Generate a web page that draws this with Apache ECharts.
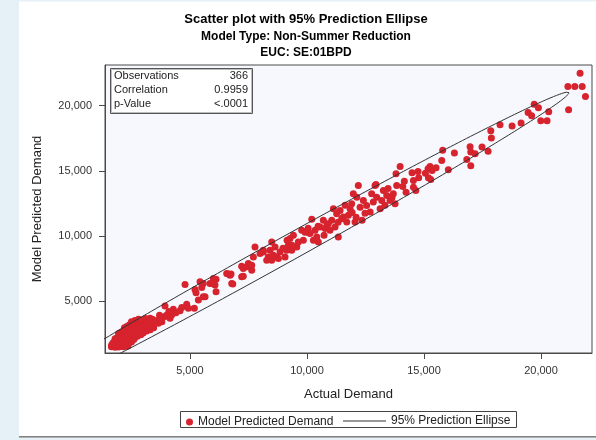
<!DOCTYPE html>
<html><head><meta charset="utf-8">
<script src="https://cdn.jsdelivr.net/npm/echarts@6/dist/echarts.min.js"></script>
<style>html,body{margin:0;padding:0;background:#fff}#c{width:596px;height:440px}</style>
</head><body><div id="c"></div>
<script>
const titleLines = ['Scatter plot with 95% Prediction Ellipse', 'Model Type: Non-Summer Reduction', 'EUC: SE:01BPD'];
const xAxisName = 'Actual Demand';
const yAxisName = 'Model Predicted Demand';
const tickValues = [5000, 10000, 15000, 20000];
const statLabels = ['Observations', 'Correlation', 'p-Value'];
const statValues = ['366', '0.9959', '<.0001'];
const seriesNames = ['Model Predicted Demand', '95% Prediction Ellipse'];
// [actual demand, model predicted demand]
const observations = [
[21670,22490],[21150,21470],[21445,21470],[21760,21470],[21900,20700],[21180,19690],[19710,20120],[19890,19840],[19450,19480],[19600,19230],[20330,19530],[19990,18845],[20260,18845],[19150,18670],[18765,18440],[18250,18540],[17855,18080],[17880,17520],[17480,16830],[17740,16500],[16970,16855],[17000,16450],[17185,16300],[16830,15860],[17000,15380],[16300,16375],[15800,16575],[15760,15785],[16040,15075],[15260,15325],[15175,15150],[15517,15225],[15346,15020],[15060,14815],[14745,14945],[14490,14845],[14775,14460],[14160,14200],[15190,14460],[15290,14330],[14095,13795],[14235,13360],[14650,13490],[13980,15325],
[13805,14770],[14550,14255],[14550,13745],[13835,13870],[13690,13240],[13765,12470],[13265,13490],[13410,13107],[13195,12725],[13550,12725],[12980,12977],[12910,13872],[12765,13240],[12835,12596],[12550,12343],[12700,11830],[12410,12725],[12270,12210],[12195,13872],[12130,12977],[11980,13240],[11910,12470],[11840,12090],[11770,11577],[12055,11065],[11415,11960],[11485,11325],[11270,11706],[11130,12090],[11060,11195],[11200,10682],[11340,9917],[11555,11450],[11700,11065],[10915,10940],[10775,10560],[10985,10430],[10560,10682],[10700,11195],[10205,11270],[10345,10430],[10130,10177],[10420,9917],[9990,10300],[10275,9665],[10485,9535],[9775,10430],[9845,9665],[9630,9535],[9420,10047],[9277,9795],[9205,9282],[9565,9152],[9350,8900],[9135,8900],[9063,8385],[8850,8770],[8636,9152],[8495,9535],[8422,8900],[8706,8385],[8350,8385],[8495,8135],[8780,8262],[8280,8135],[7780,9152],[7995,8645],[8135,8900],[7710,8385],[7567,7752],[7425,7625],[7280,7500],[7640,7370],[7210,6857],[6570,7117],[6713,6987],[6785,6350],[6000,6735],[6070,6222],[5930,6350],[5570,6350],[5645,5327],[6115,5710],[5430,6475],
[13330,12345],[13125,12090],[13635,12955],[13465,13645],[11630,12345],[11930,11805],[11330,11040],[12100,11425],[12480,11730],[12355,11195],[9920,10280],[10475,10735],[10730,10050],[10050,10580],[10860,10890],[8975,9050],[9360,9280],[9150,9665],[12950,13950],
[4790,6275],[5858,6350],[6115,6680],[6640,7065],[6755,7065],[6830,6300],[7280,6910],[7210,7675],[7495,7880],[7640,7750],[8135,8770],[8565,8520],
[5215,5890],[5260,5630],[5505,6045],[5360,5075],[5570,5330],[4860,4745],[4930,4440],[5187,4440],[4576,4255],[4290,4365],[4220,3927],[3935,4615],[4148,3675],[3935,3800],[3650,3545],[3435,3415],[3293,3675],[3150,3545],[3005,3415],[2866,3415],[2725,3160],[2580,3160],[2439,2910],[2295,2780],[2150,2527],[2011,2270],[1870,2015],[1725,1630],[1655,1500],
[3800,3400],[4000,3900],[4400,4100],[4650,4500],[3700,3900],[4100,4200],
[1650,1480],[1720,1520],[1800,1450],[1880,1500],[1950,1460],[2050,1500],[2150,1480],[2250,1520],[2350,1550],[1700,1650],[1800,1700],[1900,1650],[2000,1700],[2100,1650],[2200,1700],[2300,1750],[2400,1800],[2500,1850],[1750,1850],[1850,1900],[1950,1950],[2050,1900],[2150,2000],[2250,2050],[2350,2000],[2450,2100],[2550,2150],[2650,2200],[1800,2100],[1900,2200],[2000,2300],[2100,2250],[2200,2400],[2300,2350],[2400,2450],[2500,2400],[2600,2500],[2700,2450],[2800,2550],[1950,2500],[2050,2600],[2150,2700],[2250,2650],[2350,2800],[2450,2750],[2550,2900],[2650,2800],[2750,2950],[2850,2850],[2950,2700],[3050,2900],[2200,2950],[2300,3050],[2400,3150],[2500,3100],[2600,3250],[2700,3200],[2800,3350],[2900,3250],[3000,3400],[3100,3300],[3200,3150],[3300,3000],[3400,3200],[2500,3400],[2650,3500],[2800,3600],[2950,3550],[3100,3650],[3250,3500],[3400,3600],[3550,3450],[3650,3300],[3750,3550],[1650,1600],[1700,1750],[1850,1600],[2000,1550],[2100,1800],[2300,1600],[2450,1950],[2600,2050],[2750,2300],[2900,2400],[3000,2550],[3150,2700],[3300,2800],[3450,2950],[2050,2050],[2200,2200],[2350,2300],[2550,2600],[2700,2700],[2900,3000],[3050,3100],[3200,3400]
];
// 95% prediction ellipse parameters (mean and scaled standard deviations)
const ellipseCenter = [8935, 8785];
const ellipseScale = [12265, 12265];
const correlation = 0.9959;

const ellipse = [];
const N = 360;
for (let k = 0; k <= N; k++) {
  const t = k / N * 2 * Math.PI;
  const x = ellipseCenter[0] + ellipseScale[0] * Math.cos(t);
  const y = ellipseCenter[1] + ellipseScale[1] * (correlation * Math.cos(t) + Math.sqrt(1 - correlation * correlation) * Math.sin(t));
  ellipse.push([x, y]);
}

const FF = '"Liberation Sans", Arial, sans-serif';
const fmt = v => Math.round(v).toLocaleString('en-US');
const chart = echarts.init(document.getElementById('c'), null, {renderer: 'canvas'});

const statTexts = [];
statLabels.forEach((s, i) => {
  statTexts.push({type: 'text', z: 101, style: {text: s, x: 114, y: 76 + i * 14, font: '11px ' + FF, fill: '#222', verticalAlign: 'middle', align: 'left'}});
  statTexts.push({type: 'text', z: 101, style: {text: statValues[i], x: 248, y: 76 + i * 14, font: '11px ' + FF, fill: '#222', verticalAlign: 'middle', align: 'right'}});
});

chart.setOption({
  animation: false,
  backgroundColor: '#ffffff',
  title: [
    {text: titleLines[0], left: 306, top: 13, textAlign: 'center', padding: 0, textStyle: {fontSize: 13, fontWeight: 'bold', fontFamily: FF, color: '#000'}},
    {text: titleLines[1], left: 306, top: 31, textAlign: 'center', padding: 0, textStyle: {fontSize: 12, fontWeight: 'bold', fontFamily: FF, color: '#000'}},
    {text: titleLines[2], left: 306, top: 47, textAlign: 'center', padding: 0, textStyle: {fontSize: 12, fontWeight: 'bold', fontFamily: FF, color: '#000'}}
  ],
  grid: {left: 105, right: 4, top: 65, bottom: 87, show: true, backgroundColor: '#f7f8fe', borderColor: '#4a4a4a', borderWidth: 1, containLabel: false, outerBoundsMode: 'none'},
  xAxis: {
    type: 'value', min: 1370, max: 22180, splitNumber: 4,
    name: xAxisName, nameLocation: 'middle', nameGap: 35,
    nameTextStyle: {fontSize: 13, fontFamily: FF, color: '#222'},
    axisLine: {show: true, onZero: false, lineStyle: {color: '#4a4a4a'}},
    axisTick: {show: true, length: 6, customValues: tickValues, lineStyle: {color: '#4a4a4a'}},
    axisLabel: {customValues: tickValues, margin: 12, fontSize: 11, fontFamily: FF, color: '#333', formatter: fmt},
    splitLine: {show: false}
  },
  yAxis: {
    type: 'value', min: 1006, max: 23126, splitNumber: 4,
    name: yAxisName, nameLocation: 'middle', nameGap: 61, nameRotate: 90,
    nameTextStyle: {fontSize: 13, fontFamily: FF, color: '#222'},
    axisLine: {show: true, onZero: false, lineStyle: {color: '#4a4a4a'}},
    axisTick: {show: true, length: 6, customValues: tickValues, lineStyle: {color: '#4a4a4a'}},
    axisLabel: {customValues: tickValues, margin: 13, fontSize: 11, fontFamily: FF, color: '#333', formatter: fmt},
    splitLine: {show: false}
  },
  legend: [
    {data: [seriesNames[0]], left: 186, top: 416, padding: 0, itemWidth: 7, itemHeight: 7, icon: 'circle', itemGap: 0,
     itemStyle: {borderWidth: 0}, textStyle: {fontSize: 12, fontFamily: FF, color: '#222'}, selectedMode: false},
    {data: [seriesNames[1]], left: 343, top: 415, padding: 0, itemWidth: 43, itemHeight: 14, icon: 'path://M0,0H43V1H0Z', itemGap: 0,
     itemStyle: {borderWidth: 0}, textStyle: {fontSize: 12, fontFamily: FF, color: '#222'}, selectedMode: false}
  ],
  graphic: [
    {type: 'rect', z: -10, silent: true, shape: {x: 0, y: 0, width: 19, height: 440}, style: {fill: '#e5f0f7'}},
    {type: 'rect', z: -10, silent: true, shape: {x: 0, y: 0, width: 596, height: 1.5}, style: {fill: '#e5f0f7'}},
    {type: 'rect', z: -10, silent: true, shape: {x: 19, y: 436, width: 577, height: 1}, style: {fill: '#808080'}},
    {type: 'rect', z: -10, silent: true, shape: {x: 19, y: 437, width: 577, height: 1}, style: {fill: '#b0b0b0'}},
    {type: 'rect', z: -10, silent: true, shape: {x: 19, y: 438, width: 577, height: 2}, style: {fill: '#e5f0f7'}},
    {type: 'rect', z: -5, silent: true, shape: {x: 180.5, y: 411.5, width: 336, height: 16}, style: {fill: '#fff', stroke: '#444', lineWidth: 1}},
    {type: 'rect', z: 100, silent: true, shape: {x: 110.5, y: 68.5, width: 142, height: 45}, style: {fill: '#fff', stroke: '#555', lineWidth: 1}},
    {type: 'rect', z: 100, silent: true, shape: {x: 111.5, y: 69.5, width: 140, height: 43}, style: {fill: 'none', stroke: '#bdbdbd', lineWidth: 1}}
  ].concat(statTexts),
  series: [
    {name: seriesNames[0], type: 'scatter', data: observations, symbol: 'circle', symbolSize: 7,
     itemStyle: {color: '#d7232d', opacity: 1}, z: 3},
    {name: seriesNames[1], type: 'line', data: ellipse, showSymbol: false, symbol: 'none', clip: true,
     color: '#333', lineStyle: {color: '#333', width: 1}, itemStyle: {color: '#333'}, z: 4}
  ]
});
</script></body></html>
